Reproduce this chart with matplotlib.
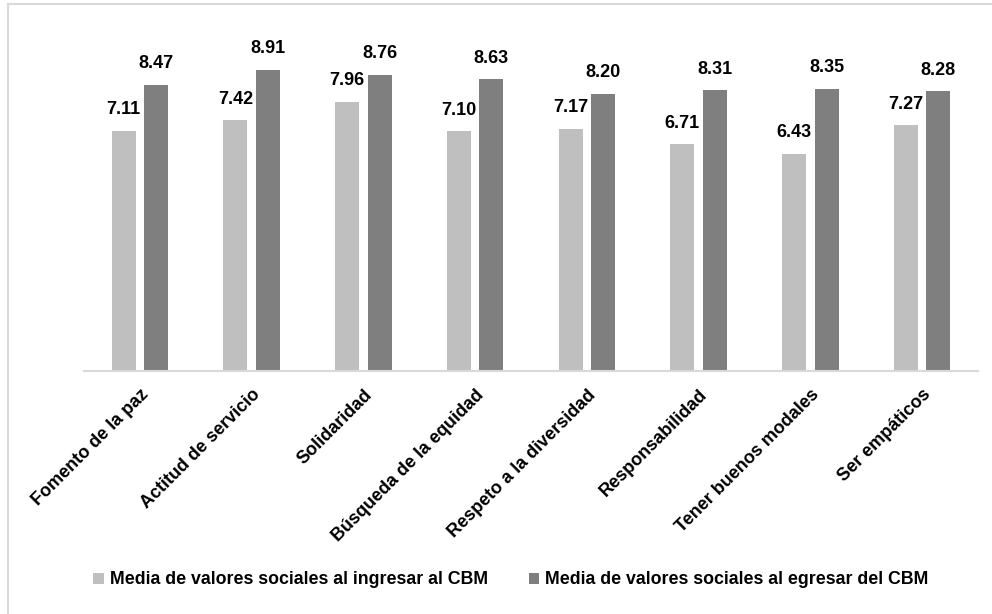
import matplotlib
matplotlib.use("Agg")
import matplotlib.pyplot as plt
from matplotlib.patches import Rectangle
import numpy as np

categories = ["Fomento de la paz", "Actitud de servicio", "Solidaridad",
              "Búsqueda de la equidad", "Respeto a la diversidad",
              "Responsabilidad", "Tener buenos modales", "Ser empáticos"]
ingreso = [7.11, 7.42, 7.96, 7.10, 7.17, 6.71, 6.43, 7.27]
egreso = [8.47, 8.91, 8.76, 8.63, 8.20, 8.31, 8.35, 8.28]
series_names = ["Media de valores sociales al ingresar al CBM",
                "Media de valores sociales al egresar del CBM"]

plt.rcParams['font.family'] = ["Liberation Sans", "DejaVu Sans"]

W, H = 992, 614
fig = plt.figure(figsize=(W / 100, H / 100), dpi=100)
ax = fig.add_axes([84 / W, 1 - 371 / H, (978 - 84) / W, (371 - 33) / H])

x = np.arange(len(categories))
bw = 0.215
gap = 0.075
light = "#BFBFBF"
dark = "#7F7F7F"
b1 = ax.bar(x - (bw + gap) / 2, ingreso, bw, color=light, label=series_names[0])
b2 = ax.bar(x + (bw + gap) / 2, egreso, bw, color=dark, label=series_names[1])

for bars, vals in ((b1, ingreso), (b2, egreso)):
    for r, v in zip(bars, vals):
        ax.annotate(f"{v:.2f}", (r.get_x() + r.get_width() / 2, v),
                    xytext=(0, 9), textcoords="offset points",
                    ha="center", va="bottom", fontsize=13, fontweight="bold")

ax.set_xlim(-0.5, len(categories) - 0.5)
ax.set_ylim(0, 10)
ax.set_yticks([])
for s in ["top", "right", "left"]:
    ax.spines[s].set_visible(False)
ax.spines["bottom"].set_color("#D9D9D9")
ax.spines["bottom"].set_linewidth(1.5)
ax.set_xticks(x)
ax.set_xticklabels(categories, rotation=45, ha="right", rotation_mode="anchor",
                   fontsize=13, fontweight="bold")
ax.tick_params(axis="x", length=0, pad=11)

leg = fig.legend(handles=[b1, b2], loc="center", bbox_to_anchor=(0.515, 1 - 580 / H),
                 ncol=2, frameon=False, prop={"weight": "bold", "size": 12.75},
                 handlelength=0.6, handleheight=0.6, columnspacing=2.3, handletextpad=0.35)

fig.patches.append(Rectangle((8 / W, -0.1), 1.2, 1.1 - 4 / H, transform=fig.transFigure,
                             fill=False, edgecolor="#D9D9D9", linewidth=1.5))

fig.savefig("out.png", dpi=100)
